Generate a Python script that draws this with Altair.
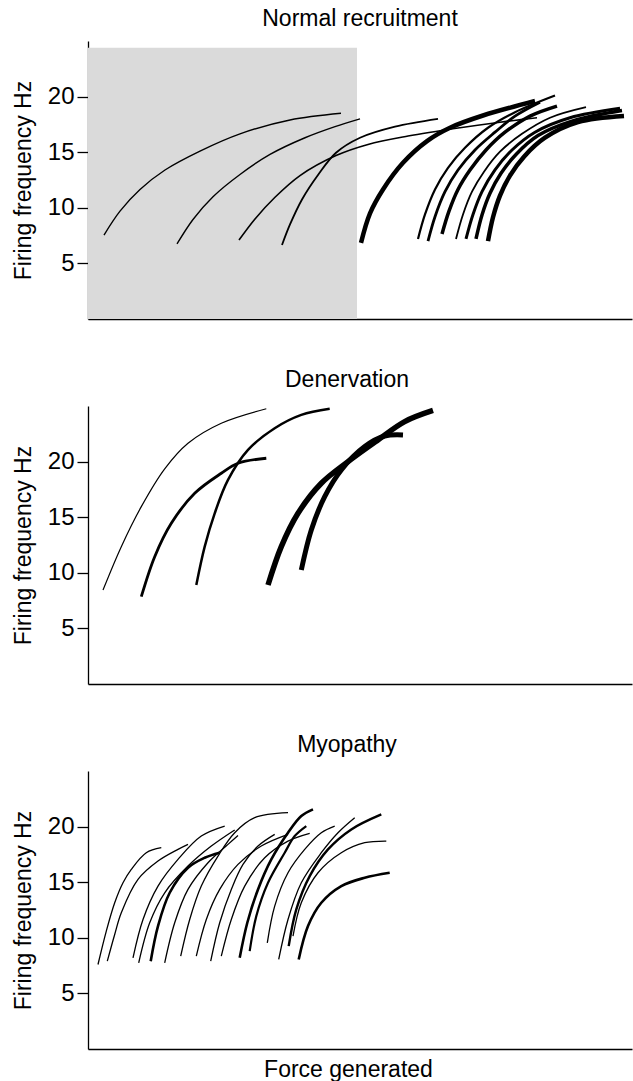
import altair as alt
import pandas as pd

FONT = "Liberation Sans"

# ---------------- Panel 1: Normal recruitment ----------------
NORMAL_X = [
    [16, 32, 52, 77, 112, 152, 202, 253],
    [89, 105, 125, 152, 182, 217, 247, 272],
    [151, 167, 187, 212, 248, 280, 320, 372, 412, 449],
    [194, 202, 214, 230, 248, 272, 307, 350],
    [273, 282, 295, 315, 339, 362, 395, 447],
    [330, 337, 347, 360, 377, 400, 427, 467],
    [340, 347, 357, 370, 387, 407, 427, 452],
    [354, 361, 370, 382, 398, 417, 442, 469],
    [368, 375, 384, 396, 412, 434, 462, 498],
    [378, 385, 394, 407, 424, 447, 482, 532],
    [388, 394, 402, 413, 428, 450, 484, 534],
    [400, 405, 412, 422, 436, 457, 490, 536],
]
NORMAL_Y = [
    [7.55, 9.7, 11.65, 13.4, 15.1, 16.65, 17.9, 18.5],
    [6.75, 8.95, 11.0, 13.0, 14.8, 16.3, 17.3, 18.0],
    [7.1, 9.0, 10.95, 12.9, 14.7, 15.7, 16.45, 17.2, 17.7, 18.1],
    [6.65, 8.5, 10.75, 12.95, 14.95, 16.3, 17.3, 18.0],
    [6.85, 9.5, 11.65, 14.05, 16.0, 17.2, 18.3, 19.6],
    [7.2, 9.4, 11.65, 13.6, 15.4, 17.2, 18.6, 20.1],
    [7.0, 9.2, 11.45, 13.4, 15.2, 16.8, 18.25, 19.5],
    [7.65, 9.7, 11.65, 13.4, 15.2, 16.8, 18.25, 19.15],
    [7.2, 9.4, 11.45, 13.25, 15.05, 16.65, 18.1, 19.05],
    [7.2, 9.4, 11.45, 13.4, 15.2, 16.8, 18.1, 18.95],
    [7.2, 9.35, 11.3, 13.1, 14.8, 16.5, 17.8, 18.75],
    [7.0, 9.15, 11.1, 12.9, 14.6, 16.3, 17.7, 18.25],
]
NORMAL_W = [1.4, 1.4, 1.6, 1.8, 4.5, 2.2, 2.8, 3.5, 1.8, 3.0, 3.5, 4.5]
SHADE_X = [0, 269]
SHADE_Y = [0, 24.4]

# ---------------- Panel 2: Denervation ----------------
DENERV_X = [
    [15, 33.3, 53.3, 76.7, 100, 133.3, 178.3],
    [53.3, 66.7, 83.3, 106.7, 133.3, 150, 178.3],
    [108.3, 116.7, 126.7, 140, 160, 186.7, 213.3, 241.7],
    [180, 193.3, 210, 233.3, 260, 290, 316.7, 345],
    [213.3, 223.3, 236.7, 253.3, 276.7, 296.7, 315],
]
DENERV_Y = [
    [8.45, 12.35, 15.95, 19.35, 21.65, 23.45, 24.75],
    [7.85, 11.45, 14.45, 17.15, 18.95, 19.85, 20.3],
    [8.9, 12.35, 15.35, 18.35, 21.05, 23.0, 24.2, 24.75],
    [8.9, 12.35, 15.35, 18.05, 20.0, 21.95, 23.6, 24.6],
    [10.25, 13.85, 16.85, 19.25, 21.35, 22.3, 22.4],
]
DENERV_W = [1.2, 2.8, 2.5, 5.5, 5.0]

# ---------------- Panel 3: Myopathy ----------------
MYO_X = [
    [10, 18.3, 26.7, 35, 43.3, 58.3, 73.3],
    [19.3, 26.7, 33.3, 50, 70, 90, 100],
    [45, 55, 70, 90, 113.3, 136.7],
    [50.7, 61.7, 76.7, 100, 123.3, 146.7],
    [62.7, 70, 81.7, 100, 116.7, 131.7],
    [76.7, 86.7, 100, 120, 140, 150],
    [92.7, 101.7, 113.3, 130, 146.7, 166.7, 200],
    [108.3, 118.3, 131.7, 150, 173.3, 200],
    [122.7, 131.7, 143.3, 155, 170, 186.7],
    [151.7, 159.3, 170, 183.3, 200, 213.3, 225],
    [161.7, 168.3, 180, 196.7, 206.7, 218.3],
    [133.3, 143.3, 156.7, 176.7, 200, 221.7],
    [179.3, 186.7, 200, 216.7, 233.3, 246.7],
    [190.7, 200, 213.3, 233.3, 250, 266.7],
    [200.7, 208.3, 221.7, 240, 263.3, 293.3],
    [205, 213.3, 230, 253.3, 276.7, 298.3],
    [210.7, 220, 233.3, 253.3, 276.7, 301.7],
]
MYO_Y = [
    [7.6, 10.6, 13.15, 14.95, 16.15, 17.65, 18.1],
    [7.9, 10.3, 12.25, 15.25, 16.9, 17.95, 18.4],
    [8.2, 11.65, 14.65, 17.05, 19.15, 20.05],
    [7.75, 11.35, 14.05, 16.45, 18.25, 19.7],
    [7.9, 11.05, 14.05, 16.3, 17.2, 17.65],
    [7.75, 11.35, 14.35, 16.75, 18.4, 19.2],
    [8.35, 11.65, 14.65, 17.35, 19.45, 20.8, 21.25],
    [8.35, 11.65, 14.35, 16.6, 18.25, 19.3],
    [7.9, 11.35, 14.35, 16.6, 18.25, 19.3],
    [8.2, 11.35, 14.35, 17.05, 19.45, 20.95, 21.55],
    [8.8, 11.95, 14.95, 17.65, 19.15, 20.05],
    [8.35, 11.65, 14.65, 17.2, 18.7, 19.4],
    [9.55, 12.85, 15.85, 17.95, 19.45, 20.05],
    [8.05, 11.65, 14.95, 17.65, 19.45, 20.8],
    [9.25, 12.55, 15.55, 17.95, 19.75, 21.1],
    [10.15, 13.15, 15.85, 17.65, 18.55, 18.7],
    [8.05, 11.05, 13.15, 14.65, 15.4, 15.85],
]
MYO_W = [1.3, 1.3, 1.3, 1.3, 2.6, 1.3, 1.3, 1.3, 1.3, 2.6, 2.2, 1.3, 1.3, 1.3, 2.4, 1.3, 2.6]

Y_TICKS = [5, 10, 15, 20]
X_DOMAIN = [0, 544]
Y_DOMAIN = [0, 25]


def curves_frame(xs_list, ys_list, widths):
    rows = []
    for i, (xs, ys) in enumerate(zip(xs_list, ys_list)):
        for j, (x, y) in enumerate(zip(xs, ys)):
            rows.append({"curve": i, "order": j, "force": x, "freq": y, "w": widths[i]})
    return pd.DataFrame(rows)


def panel(xs_list, ys_list, widths, title, title_dx, title_offset, x_title=False, shade=False):
    df = curves_frame(xs_list, ys_list, widths)
    if x_title:
        xaxis = alt.Axis(labels=False, ticks=False, grid=False, title="Force generated",
                         titleFontSize=23, titleFont=FONT, titleFontWeight="normal",
                         titleColor="black", titlePadding=9, titleX=260)
    else:
        xaxis = alt.Axis(labels=False, ticks=False, grid=False, title=None)
    yaxis = alt.Axis(values=Y_TICKS, grid=False, title="Firing frequency Hz",
                     titleFontSize=23, titleFont=FONT, titleFontWeight="normal",
                     titleColor="black", titlePadding=12,
                     labelFontSize=24, labelFont=FONT, labelColor="black",
                     labelPadding=3, tickSize=11, tickColor="black", tickWidth=1.3)
    xscale = alt.Scale(domain=X_DOMAIN, nice=False, zero=False)
    yscale = alt.Scale(domain=Y_DOMAIN, nice=False, zero=False)

    lines = alt.Chart(df).mark_line(color="black", interpolate="catmull-rom",
                                    strokeCap="butt", clip=True).encode(
        x=alt.X("force:Q", scale=xscale, axis=xaxis),
        y=alt.Y("freq:Q", scale=yscale, axis=yaxis),
        detail="curve:N",
        order="order:Q",
        strokeWidth=alt.StrokeWidth("w:Q", scale=None),
    )
    layers = []
    if shade:
        sdf = pd.DataFrame({"force": [SHADE_X[0]], "force2": [SHADE_X[1]],
                            "freq": [SHADE_Y[0]], "freq2": [SHADE_Y[1]]})
        rect = alt.Chart(sdf).mark_rect(color="#dadada").encode(
            x=alt.X("force:Q", scale=xscale, axis=xaxis),
            x2="force2:Q",
            y=alt.Y("freq:Q", scale=yscale, axis=yaxis),
            y2="freq2:Q",
        )
        layers.append(rect)
    layers.append(lines)
    return alt.layer(*layers).properties(
        width=544, height=278,
        title=alt.TitleParams(title, fontSize=23, font=FONT, fontWeight="normal",
                              color="black", anchor="middle", dx=title_dx,
                              offset=title_offset),
    )


p1 = panel(NORMAL_X, NORMAL_Y, NORMAL_W, "Normal recruitment", 0, 10, shade=True)
p2 = panel(DENERV_X, DENERV_Y, DENERV_W, "Denervation", -13, 14)
p3 = panel(MYO_X, MYO_Y, MYO_W, "Myopathy", -13, 14, x_title=True)

chart = alt.vconcat(p1, p2, p3, spacing=50).properties(
    padding={"left": 12, "top": 8, "right": 1, "bottom": 0},
    background="white",
).configure_view(stroke=None).configure_axis(
    domainColor="black", domainWidth=1.3
)

chart.save("out.html", embed_options={"renderer": "svg", "actions": False})
